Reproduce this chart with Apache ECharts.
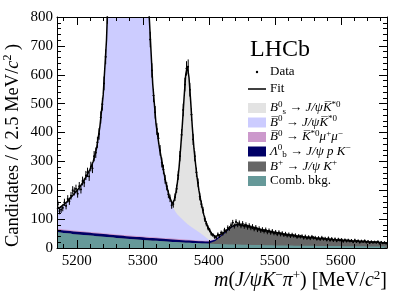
<!DOCTYPE html>
<html><head><meta charset="utf-8">
<script src="https://cdn.jsdelivr.net/npm/echarts@6/dist/echarts.min.js"></script>
<style>html,body{margin:0;padding:0;background:#fff}#c{width:407px;height:293px}</style>
</head><body><div id="c"></div>
<script>
// ---- data ----
const binLo = 5170, binW = 2.5;
const dataCounts = [
152,128,133,139,158,146,170,162,181,200,196,205,188,214,203,232,226,251,262,248,282,276,318,330,366,395,452,498,570,662,805,930,
1150,1400,1800,2300,2900,3900,5100,6800,8300,9600,10700,11100,10600,8900,7100,5100,3900,2800,2100,1600,1300,1100,930,835,
722,615,528,470,412,380,338,296,272,238,214,186,172,148,152,176,205,252,318,392,478,566,622,628,548,462,376,318,262,226,178,152,131,101,84,70,62,49,45,38,36,47,41,53,
50,62,58,70,68,79,88,76,90,81,86,77,84,75,80,72,77,70,74,66,
71,63,67,60,64,58,63,55,60,53,58,51,55,48,54,47,51,45,49,43,
47,41,46,42,44,38,42,39,41,35,40,34,38,33,39,35,36,31,35,30,
36,31,33,28,34,27,32,26,31,25,30,27,29,23,28,24,27,24,26,21,
27,22,25,20,24,22,25,20,23,18,22,19,21,19,22,16,20,17,19,16];

const fitMass = [
5170,5175,5180,5185,5190,5195,5200,5205,5210,5215,5220,5225,5230,5235,5240,5245,5250,5255,5260,5265,5270,5275,5280,5285,5290,5295,5300,5305,5310,5315,5320,5325,5330,5335,5340,5345,
5347.5,5350,5352.5,5355,5357.5,5360,5362.5,5365,5367.5,5370,5372.5,5375,5377.5,5380,5382.5,5385,5387.5,5390,5392.5,5395,
5400,5405,5410,5415,5420,5425,5430,5435,5440,5445,5450,5455,5460,5465,5470,5475,5480,5485,5490,5495,5500,5505,5510,5515,5520,5525,5530,5535,5540,5545,5550,5555,5560,5565,5570,5575,5580,5585,5590,5595,5600,5605,5610,5615,5620,5625,5630,5635,5640,5645,5650,5655,5660,5665,5670];

const combBkg = [
55,54,52,51,50,48,47,46,45,44,43,42,41,40,39,38,37,36,35,34,33,32,31,30,29.5,29,28,27,26,25.5,25,24,23,22.5,22,21,
20.8,20.5,20.2,20,19.5,19,18.8,18.5,18.2,18,17.8,17.5,17.2,17,16.8,16.5,16.2,16,15.8,15.5,
15,14.5,14,13.5,13,12.8,12.5,12.2,12,11.8,11.5,11.2,11,10.8,10.5,10.2,10,9.8,9.5,9.3,9,8.9,8.8,8.6,8.5,8.3,8.2,8.1,8,7.8,7.7,7.5,7.4,7.3,7.2,7.1,7,6.8,6.7,6.6,6.5,6.4,6.3,6.1,6,5.9,5.8,5.7,5.6,5.5,5.4,5.3,5.2,5.1,5];

const bPlus = [
0,0,0,0,0,0,0,0,0,0,0,0,0,0,0,0,0,0,0,0,0,0,0,0,0,0,0,0,0,0,0,0,0,0,0,0,
0,0,0,0,0,0,0,0,0,0,0,0,0,0,0,0,0,0,0,0,
1,5,10,20,29,39.5,50,59,64.8,67.7,66.5,65,62.5,60,57.5,55,52.5,51,48.5,46.7,45,43.1,41.2,39.4,37.5,35.7,34.8,32.9,32,30.2,29.3,28.5,27.6,26.7,25.8,24.9,24,23.2,22.3,21.4,20.5,20.1,19.7,18.9,18.5,18.1,17.2,16.8,16.4,15.5,15.1,14.7,13.8,13.4,13];

const lambdaB = [
8.5,8.7,8.9,9.1,9.3,9.4,9.5,9.6,9.6,9.6,9.5,9.5,9.4,9.4,9.3,9.3,9.2,9.2,9.1,9.1,9,9,9,9,9,8.9,8.9,8.9,8.9,8.8,8.8,8.8,8.7,8.6,8.5,8.5,
8.4,8.3,8.2,8.1,8,8,7.9,7.8,7.8,7.7,7.6,7.5,7.5,7.4,7.3,7.2,7.1,7,7,7,
6.8,6.2,5.6,5.2,5,4.5,4,3.5,3,2.5,2,1.8,1.5,1.2,1,0.7,0.5,0.3,0,0,0,0,0,0,0,0,0,0,0,0,0,0,0,0,0,0,0,0,0,0,0,0,0,0,0,0,0,0,0,0,0,0,0,0,0,0,0];

const kstMuMu = [
3,3,3,3,3,3,3,3,3,3,3,3,3,3,3,3,3,3,3,3,3,3,3,3,3,3,3,3,3,3,3,3,3,3,3,3,
3,3,3,3,3,3,2.9,2.9,2.8,2.8,2.7,2.7,2.6,2.6,2.5,2.5,2.4,2.4,2.3,2.2,
2,1.5,1.2,1,0.8,0.5,0.3,0.2,0.1,0,0,0,0,0,0,0,0,0,0,0,0,0,0,0,0,0,0,0,0,0,0,0,0,0,0,0,0,0,0,0,0,0,0,0,0,0,0,0,0,0,0,0,0,0,0];

const b0Sig = [
68,76,86,97,110,125,139,154,173,194,217,246,292,368,479,670,1001,1552,2550,4450,7450,10450,10950,7950,4450,2350,1360,960,752,532,393,314,250,190,143,112,
101,92,85,79,74,69,64,59,54.5,50,46.5,43,39.5,36,32.5,29,25.5,22,17.5,13,
4,1,0.5,0.3,0.2,0,0,0,0,0,0,0,0,0,0,0,0,0,0,0,0,0,0,0,0,0,0,0,0,0,0,0,0,0,0,0,0,0,0,0,0,0,0,0,0,0,0,0,0,0,0,0,0,0,0];

const bsSig = [
0,0,0,0,0,0,0,0,0,0,0,0,0,0,0,0,0,0,0,0,0,0,0,0,0,0,0,0,0,0,0,0,0.5,1,3.5,7.5,
32,66,112,170,246,331,426,512,547,512,435,349,278,227,181,145,117,93,72,57,
36,20,9,4,2,0.7,0.2,0,0,0,0,0,0,0,0,0,0,0,0,0,0,0,0,0,0,0,0,0,0,0,0,0,0,0,0,0,0,0,0,0,0,0,0,0,0,0,0,0,0,0,0,0,0,0,0];

const xMajor = [5200,5300,5400,5500,5600];
const xMinor = [5180,5220,5240,5260,5280,5320,5340,5360,5380,5420,5440,5460,5480,5520,5540,5560,5580,5620,5640,5660];

// ---- styling ----
const F = '"Liberation Serif","Times New Roman",serif';
const colors = {bs:'#e3e3e3', b0:'#ccccff', kmm:'#cc99cc', lb:'#000066', bp:'#666666', comb:'#669999'};

// stacking order from bottom to top
const comps = [
  {name:'comb', arr:combBkg, color:colors.comb},
  {name:'bp', arr:bPlus, color:colors.bp},
  {name:'lb', arr:lambdaB, color:colors.lb},
  {name:'kmm', arr:kstMuMu, color:colors.kmm},
  {name:'b0', arr:b0Sig, color:colors.b0},
  {name:'bs', arr:bsSig, color:colors.bs}
];
const cum = [];
comps.forEach((c,j)=>{
  cum.push(fitMass.map((m,i)=>(j?cum[j-1][i]:0)+c.arr[i]));
});
const total = cum[cum.length-1];

const series = [];
for (let j=comps.length-1;j>=0;j--){
  const c = comps[j];
  series.push({type:'line', name:c.name, symbol:'none', silent:true,
    data: fitMass.map((m,i)=>[m,cum[j][i]]),
    lineStyle:{width:0, color:c.color}, itemStyle:{color:c.color},
    areaStyle:{color:c.color, opacity:1, origin:'start'}, clip:true, z:1+(comps.length-j)*0.01});
}
series.push({type:'custom', name:'Data', clip:true, z:3,
  data: dataCounts.map((n,k)=>[binLo+binW*(k+0.5), n]),
  renderItem(params, api){
    const x = api.value(0), y = api.value(1), e = Math.sqrt(y);
    const p = api.coord([x,y]);
    const lo = api.coord([x,y-e]), hi = api.coord([x,y+e]);
    const l = api.coord([x-binW/2,y]), r = api.coord([x+binW/2,y]);
    return {type:'group', children:[
      {type:'line', shape:{x1:p[0],y1:lo[1],x2:p[0],y2:hi[1]}, style:{stroke:'#000',lineWidth:1}},
      {type:'line', shape:{x1:l[0],y1:p[1],x2:r[0],y2:p[1]}, style:{stroke:'#000',lineWidth:1}},
      {type:'circle', shape:{cx:p[0],cy:p[1],r:0.9}, style:{fill:'#000'}}
    ]};
  }
});
series.push({type:'line', name:'Fit', symbol:'none', data: fitMass.map((m,i)=>[m,total[i]]),
  lineStyle:{width:1.5, color:'#000'}, clip:true, z:4});

function xAx(pos, major){
  return {type:'value', min:5170, max:5670, position:pos, gridIndex:0,
    axisLine:{show:major, onZero:false, lineStyle:{color:'#000', width:1}},
    axisTick:{show:true, inside:true, length: major?8:4, customValues: major?xMajor:xMinor, lineStyle:{color:'#000', width:1}},
    axisLabel:{show: major && pos==='bottom', customValues:xMajor, formatter:v=>String(v), color:'#000', fontFamily:F, fontSize:15, margin:6},
    splitLine:{show:false}, minorTick:{show:false}, z:5};
}
function yAx(pos){
  return {type:'value', min:0, max:800, interval:100, position:pos,
    axisLine:{show:true, onZero:false, lineStyle:{color:'#000', width:1}},
    axisTick:{show:true, inside:true, length:8, lineStyle:{color:'#000'}},
    minorTick:{show:true, splitNumber:5, length:4, lineStyle:{color:'#000'}},
    axisLabel:{show: pos==='left', formatter:v=>String(v), color:'#000', fontFamily:F, fontSize:15, margin:4},
    splitLine:{show:false}, minorSplitLine:{show:false}, z:5};
}

const rich = {
  i:{fontStyle:'italic', fontFamily:F, fontSize:13, lineHeight:16},
  sup:{fontFamily:F, fontSize:9, lineHeight:9, verticalAlign:'top'},
  sub:{fontFamily:F, fontSize:9, lineHeight:9, verticalAlign:'bottom'}
};
const richX = {
  i:{fontStyle:'italic', fontFamily:F, fontSize:20, lineHeight:24},
  sup:{fontFamily:F, fontSize:13, lineHeight:12, verticalAlign:'top'}
};
const richY = {
  i:{fontStyle:'italic', fontFamily:F, fontSize:18.5, lineHeight:22},
  sup:{fontFamily:F, fontSize:12, lineHeight:11, verticalAlign:'top'}
};

const legendRows = [
  {kind:'dot', text:'Data'},
  {kind:'line', text:'Fit'},
  {kind:'box', color:colors.bs, text:'{i|B}{sup|0}{sub|s} → {i|J/ψ}{i|K\u0305}{sup|*0}'},
  {kind:'box', color:colors.b0, text:'{i|B\u0305}{sup|0} → {i|J/ψ}{i|K\u0305}{sup|*0}'},
  {kind:'box', color:colors.kmm, text:'{i|B\u0305}{sup|0} → {i|K\u0305}{sup|*0}{i|μ}{sup|+}{i|μ}{sup|−}'},
  {kind:'box', color:colors.lb, text:'{i|Λ}{sup|0}{sub|b} → {i|J/ψ p K}{sup|−}'},
  {kind:'box', color:colors.bp, text:'{i|B}{sup|+} → {i|J/ψ K}{sup|+}'},
  {kind:'box', color:colors.comb, text:'Comb. bkg.'}
];
const rowY = [72, 89, 108, 122.5, 137, 151.5, 166.5, 181];
const graphic = [];
legendRows.forEach((r,i)=>{
  const y = rowY[i];
  if (r.kind==='dot') graphic.push({type:'circle', shape:{cx:257, cy:y, r:1.2}, style:{fill:'#000'}});
  else if (r.kind==='line') graphic.push({type:'line', shape:{x1:248, y1:y, x2:266, y2:y}, style:{stroke:'#000', lineWidth:1.5}});
  else graphic.push({type:'rect', shape:{x:248, y:y-5, width:18, height:10}, style:{fill:r.color}});
  graphic.push({type:'text', x:270, y:y, style:{text:r.text, rich:rich, fontFamily:F, fontSize:13, fill:'#000', verticalAlign:'middle', lineHeight:16}});
});
graphic.push({type:'text', x:250, y:50, style:{text:'LHCb', fontFamily:F, fontSize:24, fill:'#000', verticalAlign:'middle'}});
graphic.push({type:'text', x:387, y:281, style:{text:'{i|m}({i|J/ψK}{sup|−}{i|π}{sup|+}) [MeV/{i|c}{sup|2}]', rich:richX, fontFamily:F, fontSize:20, fill:'#000', align:'right', verticalAlign:'middle', lineHeight:24}});
graphic.push({type:'text', x:13, y:247, rotation:Math.PI/2, style:{text:'Candidates / ( 2.5 MeV/{i|c}{sup|2} )', rich:richY, fontFamily:F, fontSize:18.5, fill:'#000', align:'left', verticalAlign:'middle', lineHeight:22}});

const chart = echarts.init(document.getElementById('c'), null, {renderer:'canvas'});
chart.setOption({
  animation:false,
  backgroundColor:'#fff',
  grid:{left:57, right:20, top:17, bottom:45, containLabel:false, outerBoundsMode:'none'},
  xAxis:[xAx('bottom',true), xAx('bottom',false), xAx('top',true), xAx('top',false)],
  yAxis:[yAx('left'), yAx('right')],
  series: series,
  graphic: graphic
});
</script></body></html>
